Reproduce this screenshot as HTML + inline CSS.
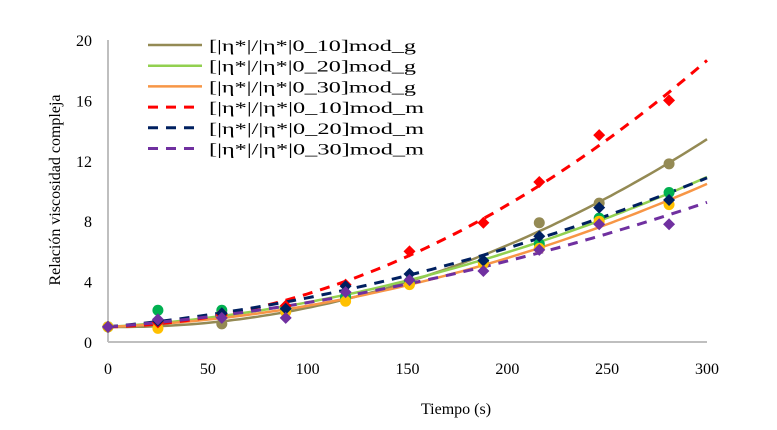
<!DOCTYPE html>
<html><head><meta charset="utf-8"><style>
body{margin:0;background:#fff}
svg text{font-family:"Liberation Serif",serif;fill:#000}
</style></head><body>
<svg id="chart" width="777" height="425"></svg>
<script>
const times=[0,25,57,89,119,151,188,216,246,281];
const g10=[1,1.3,1.2,2.0,2.9,4.0,5.3,7.9,9.2,11.8];
const g20=[1,2.1,2.1,2.2,3.0,4.0,5.3,6.5,8.2,9.9];
const g30=[1,0.9,1.8,2.0,2.7,3.8,5.2,6.2,8.0,9.1];
const m10=[1,1.3,1.8,2.4,3.8,6.0,7.9,10.6,13.7,16.0];
const m20=[1,1.4,1.9,2.2,3.7,4.5,5.4,7.0,8.9,9.4];
const m30=[1,1.5,1.6,1.6,3.3,4.1,4.7,6.1,7.8,7.8];
const xTicks=[0,50,100,150,200,250,300];
const yTicks=[0,4,8,12,16,20];
const labels=["[|η*|/|η*|0_10]mod_g","[|η*|/|η*|0_20]mod_g","[|η*|/|η*|0_30]mod_g","[|η*|/|η*|0_10]mod_m","[|η*|/|η*|0_20]mod_m","[|η*|/|η*|0_30]mod_m"];
const series=[
 {d:g10,mk:"circle",mc:"#948A54",lc:"#948A54",dash:false},
 {d:g20,mk:"circle",mc:"#00B050",lc:"#92D050",dash:false},
 {d:g30,mk:"circle",mc:"#FFC000",lc:"#F79646",dash:false},
 {d:m10,mk:"diamond",mc:"#FF0000",lc:"#FF0000",dash:true},
 {d:m20,mk:"diamond",mc:"#002060",lc:"#002060",dash:true},
 {d:m30,mk:"diamond",mc:"#7030A0",lc:"#7030A0",dash:true}];
const X0=108,X1=707,Y0=342,Y1=40;
const sx=v=>X0+(v-0)/300*(X1-X0);
const sy=v=>Y0-(v/20)*(Y0-Y1);
const svg=document.getElementById('chart');
const NS="http://www.w3.org/2000/svg";
function mk(t,a,p){const e=document.createElementNS(NS,t);for(const k in a)e.setAttribute(k,a[k]);(p||svg).appendChild(e);return e;}
let ax=mk('line',{x1:X0,y1:Y1,x2:X0,y2:Y0,stroke:'#bfbfbf','stroke-width':2});


ax=mk('line',{x1:X0,y1:Y0,x2:X1,y2:Y0,stroke:'#bfbfbf','stroke-width':2});


yTicks.forEach(v=>{const t=mk('text',{x:92,y:sy(v)+6,'text-anchor':'end','font-size':16});t.textContent=v;

});
xTicks.forEach(v=>{const t=mk('text',{x:sx(v),y:374,'text-anchor':'middle','font-size':16});t.textContent=v;

});
let tt=mk('text',{x:456,y:414,'text-anchor':'middle','font-size':16});tt.textContent='Tiempo (s)';


tt=mk('text',{x:0,y:0,'text-anchor':'middle','font-size':16,transform:'translate(60,190) rotate(-90)'});tt.textContent='Relación viscosidad compleja';


// quadratic trendline with intercept fixed at first value
function fit(d){const y0=d[0];let a11=0,a12=0,a22=0,b1=0,b2=0;times.forEach((t,i)=>{const u=t/100,r=d[i]-y0;a11+=u*u;a12+=u*u*u;a22+=u*u*u*u;b1+=u*r;b2+=u*u*r;});
const det=a11*a22-a12*a12;const b=(b1*a22-b2*a12)/det,c=(a11*b2-a12*b1)/det;
return t=>{const u=t/100;return y0+b*u+c*u*u;};}
series.forEach((s,i)=>{const f=fit(s.d);let p='';for(let t=0;t<=300;t+=3){p+=(t?'L':'M')+sx(t).toFixed(1)+','+sy(f(t)).toFixed(1);}
const e=mk('path',{d:p,fill:'none',stroke:s.lc,'stroke-width':s.dash?3:2.5,'stroke-dasharray':s.dash?'10,8':'none'});

});
series.forEach((s,i)=>{s.d.forEach((v,j)=>{const x=sx(times[j]),y=sy(v);let e;
if(s.mk==='circle')e=mk('circle',{cx:x,cy:y,r:5.5,fill:s.mc});
else e=mk('path',{d:`M${x},${y-6}L${x+6},${y}L${x},${y+6}L${x-6},${y}Z`,fill:s.mc});

});});
series.forEach((s,i)=>{const y=45+i*20.7;
const l=mk('line',{x1:148,y1:y,x2:202,y2:y,stroke:s.lc,'stroke-width':s.dash?3:2.5,'stroke-dasharray':s.dash?'10,8':'none'});


const t=mk('text',{x:209,y:y+6,'font-size':16,textLength:s.dash?215:207,lengthAdjust:'spacingAndGlyphs'});t.textContent=labels[i];

});
</script>
</body></html>
